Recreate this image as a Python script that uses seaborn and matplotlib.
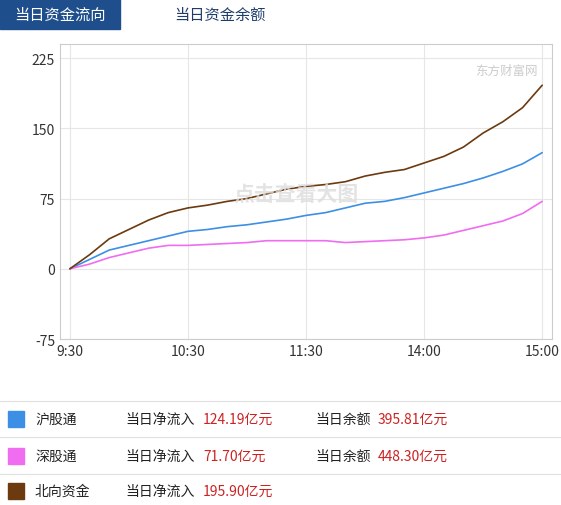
import numpy as np
import pandas as pd
import matplotlib.pyplot as plt
import seaborn as sns
from matplotlib.patches import Rectangle

sns.set_style("white")
plt.rcParams['font.family'] = ['Noto Sans CJK SC', 'DejaVu Sans']

# minutes since 9:30 (lunch break removed), every 10 minutes
minutes = list(range(0, 241, 10))
sh_flow = [0, 10, 20, 25, 30, 35, 40, 42, 45, 47, 50, 53, 57, 60, 65, 70, 72, 76, 81, 86, 91, 97, 104, 112, 124]
sz_flow = [0, 5, 12, 17, 22, 25, 25, 26, 27, 28, 30, 30, 30, 30, 28, 29, 30, 31, 33, 36, 41, 46, 51, 59, 72]
north_flow = [0, 15, 32, 42, 52, 60, 65, 68, 72, 75, 80, 85, 88, 90, 93, 99, 103, 106, 113, 120, 130, 145, 157, 172, 196]

tick_pos = [0, 60, 120, 180, 240]
tick_labels = ["9:30", "10:30", "11:30", "14:00", "15:00"]
y_ticks = [-75, 0, 75, 150, 225]

names = ["沪股通", "深股通", "北向资金"]
colors = ["#3d8fe6", "#f06cf0", "#6b3a0e"]
net_in = ["124.19亿元", "71.70亿元", "195.90亿元"]
balance = ["395.81亿元", "448.30亿元", None]

df = pd.DataFrame({"t": minutes * 3,
                   "v": sh_flow + sz_flow + north_flow,
                   "s": [names[0]] * 25 + [names[1]] * 25 + [names[2]] * 25})

fig = plt.figure(figsize=(5.61, 5.06), dpi=100)
ax = fig.add_axes([0.107, 0.328, 0.877, 0.583])
sns.lineplot(data=df, x="t", y="v", hue="s", palette=dict(zip(names, colors)),
             legend=False, linewidth=1.2, ax=ax)
ax.set_xlim(-5, 245)
ax.set_ylim(-75, 240)
ax.set_xticks(tick_pos)
ax.set_xticklabels(tick_labels, fontsize=10, color="#333333")
ax.set_yticks(y_ticks)
ax.set_yticklabels([str(v) for v in y_ticks], fontsize=10, color="#333333")
ax.set_xlabel("")
ax.set_ylabel("")
ax.grid(True, color="#e6e6e6", linewidth=0.8)
for s in ax.spines.values():
    s.set_color("#cccccc")
ax.tick_params(length=0)
ax.text(0.48, 0.47, "点击查看大图", transform=ax.transAxes, fontsize=15,
        color="#dddddd", ha="center", alpha=0.8, fontweight="bold")
ax.text(0.97, 0.9, "东方财富网", transform=ax.transAxes, fontsize=9,
        color="#cccccc", ha="right")

# tabs
fig.patches.append(Rectangle((0, 1 - 30 / 506), 120 / 561, 30 / 506,
                             transform=fig.transFigure, color="#1f4e8c"))
fig.text(60 / 561, 1 - 15 / 506, "当日资金流向", color="white", fontsize=11,
         ha="center", va="center")
fig.text(220 / 561, 1 - 15 / 506, "当日资金余额", color="#1f3d6b", fontsize=11,
         ha="center", va="center")

# bottom table
rows_y = [420, 457, 492]
for i, y in enumerate(rows_y):
    yf = 1 - y / 506
    fig.patches.append(Rectangle((8 / 561, yf - 8 / 506), 16 / 561, 16 / 506,
                                 transform=fig.transFigure, color=colors[i]))
    fig.text(35 / 561, yf, names[i], fontsize=10, va="center", color="#222222")
    fig.text(125 / 561, yf, "当日净流入", fontsize=10, va="center", color="#222222")
    fig.text(203 / 561, yf, net_in[i], fontsize=10, va="center", color="#cc2222")
    if balance[i]:
        fig.text(315 / 561, yf, "当日余额", fontsize=10, va="center", color="#222222")
        fig.text(378 / 561, yf, balance[i], fontsize=10, va="center", color="#cc2222")
    fig.add_artist(plt.Line2D([0, 1], [yf - 18 / 506] * 2, color="#e0e0e0",
                              linewidth=0.8, transform=fig.transFigure))
fig.add_artist(plt.Line2D([0, 1], [1 - 402 / 506] * 2, color="#e0e0e0",
                          linewidth=0.8, transform=fig.transFigure))

fig.savefig("out.png", dpi=100)
